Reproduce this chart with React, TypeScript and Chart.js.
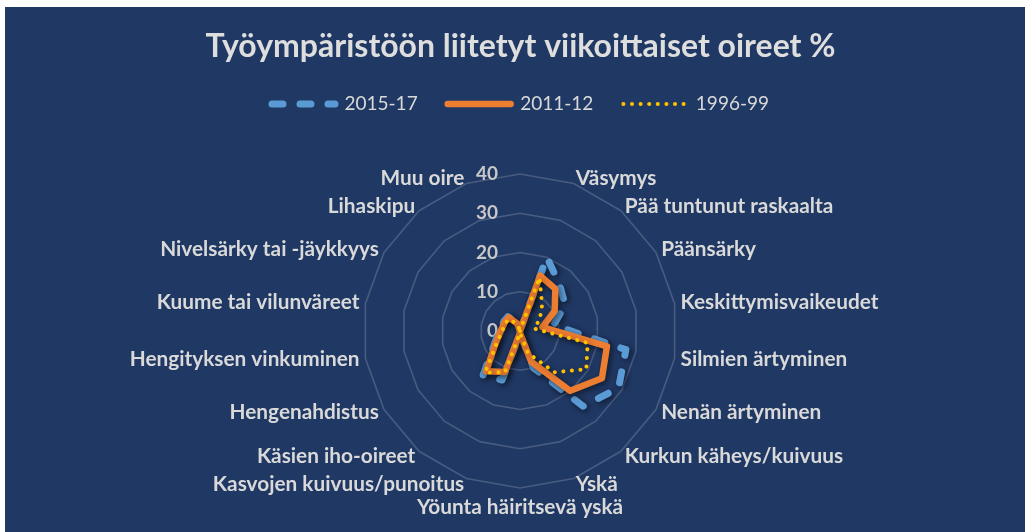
import React, { useEffect, useRef } from "react";
import { Chart, registerables } from "chart.js";

Chart.register(...registerables);

// ---- data ----
const chartTitle = "Työympäristöön liitetyt viikoittaiset oireet %";

const categories = [
  "",
  "Väsymys",
  "Pää tuntunut raskaalta",
  "Päänsärky",
  "Keskittymisvaikeudet",
  "Silmien ärtyminen",
  "Nenän ärtyminen",
  "Kurkun käheys/kuivuus",
  "Yskä",
  "Yöunta häiritsevä yskä",
  "Kasvojen kuivuus/punoitus",
  "Käsien iho-oireet",
  "Hengenahdistus",
  "Hengityksen vinkuminen",
  "Kuume tai vilunväreet",
  "Nivelsärky tai -jäykkyys",
  "Lihaskipu",
  "Muu oire",
];

const seriesNames = ["2015-17", "2011-12", "1996-99"];

const values2015 = [0, 20, 15.6, 13.3, 8.7, 27.4, 29, 25, 10, 0.8, 13.3, 14.6, 7.8, 5.8, 4.8, 4.8, 4.8, 2];
const values2011 = [0, 15, 14, 10.2, 5.8, 22.5, 24.1, 19.9, 8.3, 0.5, 11.1, 13.4, 7.4, 5.4, 4.6, 4.5, 4.5, 2];
const values1996 = [0, 14.5, 8.8, 5.8, 3.6, 17.5, 19.5, 13.7, 6, 0.5, 11.2, 13.8, 7, 5, 4.3, 4.3, 4, 1.5];

const tickValues = [0, 10, 20, 30, 40];

// ---- layout / style ----
const BG = "#203864";
const FONT = "Lato";
const CENTER_X = 515;
const CENTER_Y = 324;
const RADIUS = 157;

const shadowPlugin = {
  id: "lineShadow",
  beforeDatasetDraw(chart: any) {
    const ctx = chart.ctx;
    ctx.save();
    ctx.shadowColor = "rgba(0,0,0,0.55)";
    ctx.shadowBlur = 6;
    ctx.shadowOffsetX = 2;
    ctx.shadowOffsetY = 2;
  },
  afterDatasetDraw(chart: any) {
    chart.ctx.restore();
  },
};

const radarTextPlugin = {
  id: "radarText",
  beforeDatasetsDraw(chart: any) {
    const scale = chart.scales.r;
    const ctx = chart.ctx;
    ctx.save();
    // tick labels
    ctx.font = `bold 19px ${FONT}`;
    ctx.fillStyle = "#c8c8c8";
    ctx.textAlign = "right";
    ctx.textBaseline = "middle";
    scale.ticks.forEach((t: any) => {
      const d = scale.getDistanceFromCenterForValue(t.value);
      ctx.fillText(String(t.value), scale.xCenter - 22, scale.yCenter - d);
    });
    // point labels
    ctx.font = `bold 20.8px ${FONT}`;
    ctx.fillStyle = "#d9d9d9";
    const labels: string[] = chart.data.labels;
    const n = labels.length;
    labels.forEach((lab, i) => {
      if (!lab) return;
      const p = scale.getPointPosition(i, scale.drawingArea + 6);
      const deg = (360 / n) * i;
      if (Math.abs(deg - 180) < 0.01) {
        ctx.textAlign = "center";
        ctx.textBaseline = "middle";
        ctx.fillText(lab, p.x, p.y + 13);
      } else {
        ctx.textAlign = deg < 180 ? "left" : "right";
        ctx.textBaseline = "middle";
        ctx.fillText(lab, p.x, p.y);
      }
    });
    ctx.restore();
  },
};

export default function App() {
  const ref = useRef<HTMLCanvasElement | null>(null);

  useEffect(() => {
    if (!ref.current) return;
    const chart = new Chart(ref.current, {
      type: "radar",
      data: {
        labels: categories,
        datasets: [
          {
            label: seriesNames[0],
            data: values2015,
            borderColor: "#5B9BD5",
            backgroundColor: "transparent",
            borderWidth: 7,
            borderDash: [11, 17],
            borderCapStyle: "round",
            borderJoinStyle: "round",
            fill: false,
            pointRadius: 0,
            order: 3,
          },
          {
            label: seriesNames[1],
            data: values2011,
            borderColor: "#ED7D31",
            backgroundColor: "transparent",
            borderWidth: 6.5,
            borderCapStyle: "round",
            borderJoinStyle: "round",
            fill: false,
            pointRadius: 0,
            order: 2,
          },
          {
            label: seriesNames[2],
            data: values1996,
            borderColor: "#FFC000",
            backgroundColor: "transparent",
            borderWidth: 4,
            borderDash: [0.1, 8.5],
            borderCapStyle: "round",
            borderJoinStyle: "round",
            fill: false,
            pointRadius: 0,
            order: 1,
          },
        ],
      } as any,
      options: {
        responsive: false,
        animation: false,
        layout: { padding: { left: 11 } },
        plugins: {
          title: {
            display: true,
            text: chartTitle,
            color: "#dedede",
            font: { family: FONT, size: 32, weight: "bold", lineHeight: 1 },
            padding: { top: 24, bottom: 1.5 },
          },
          legend: {
            display: true,
            position: "top",
            labels: {
              color: "#d9d9d9",
              font: { family: FONT, size: 19 },
              usePointStyle: true,
              pointStyleWidth: 63,
              padding: 30,
              sort: (a: any, b: any) => a.datasetIndex - b.datasetIndex,
              generateLabels: (c: any) =>
                c.data.datasets.map((ds: any, i: number) => ({
                  text: ds.label,
                  fillStyle: "transparent",
                  strokeStyle: ds.borderColor,
                  lineWidth: ds.borderWidth,
                  lineDash: ds.borderDash || [],
                  lineCap: ds.borderCapStyle || "butt",
                  pointStyle: "line",
                  hidden: false,
                  datasetIndex: i,
                  fontColor: "#d9d9d9",
                })),
            },
          },
          tooltip: { enabled: false },
        },
        scales: {
          r: {
            min: 0,
            max: 40,
            afterBuildTicks: (s: any) => {
              s.ticks = tickValues.map((v) => ({ value: v }));
            },
            afterFit: (s: any) => {
              s.xCenter = CENTER_X;
              s.yCenter = CENTER_Y;
              s.drawingArea = RADIUS;
            },
            ticks: { display: false },
            grid: { circular: false, color: "rgba(255,255,255,0.18)", lineWidth: 1.6 },
            angleLines: { display: false },
            pointLabels: { display: false },
          },
        },
      } as any,
      plugins: [shadowPlugin, radarTextPlugin],
    });
    return () => chart.destroy();
  }, []);

  return (
    <div
      style={{
        position: "absolute",
        left: 5,
        top: 7,
        width: 1020,
        height: 525,
        background: BG,
        overflow: "hidden",
      }}
    >
      <canvas ref={ref} width={1020} height={525} style={{ display: "block" }} />
    </div>
  );
}
